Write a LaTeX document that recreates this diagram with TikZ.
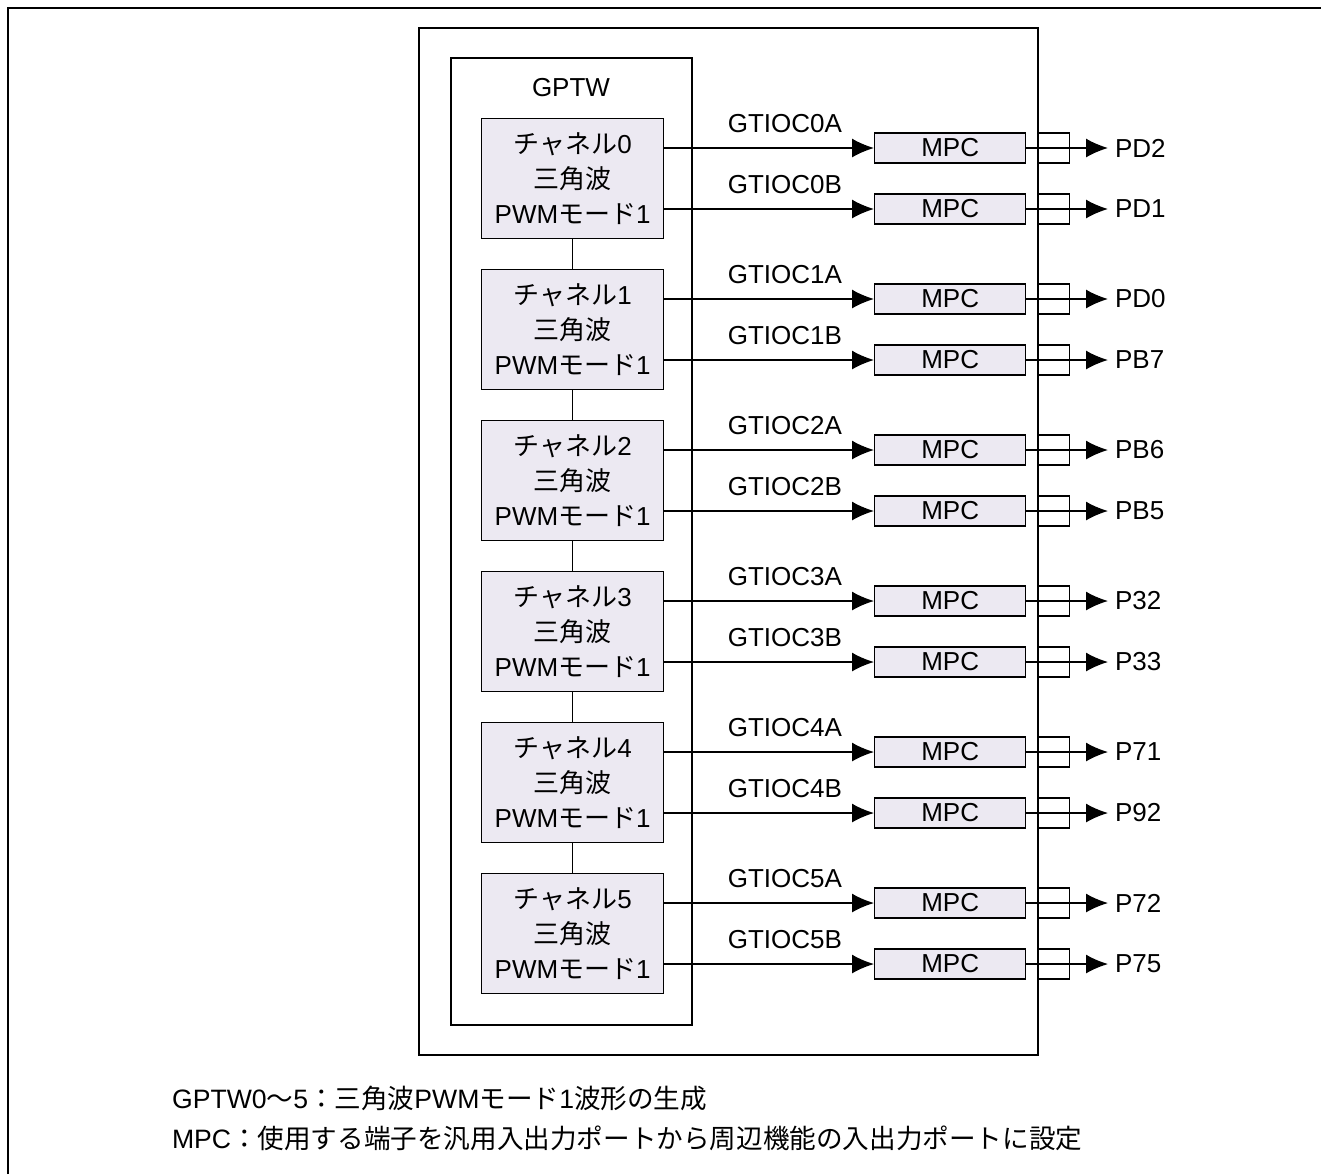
\documentclass[tikz,border=0pt]{standalone}
\usepackage{fontspec}
\setmainfont{Liberation Sans}
\newfontfamily\jp{Noto Sans CJK JP}
\usetikzlibrary{arrows.meta,positioning}

\definecolor{boxfill}{RGB}{236,233,242}

\begin{document}
\begin{tikzpicture}[
    x=0.5pt, y=-0.5pt,
    font=\fontsize{13}{17.5}\selectfont,
    chbox/.style={draw, line width=0.7pt, fill=boxfill, minimum width=91pt, minimum height=60pt, inner sep=0pt, align=center},
    mpcbox/.style={draw, line width=0.7pt, fill=boxfill, minimum width=75.5pt, minimum height=15pt, inner sep=0pt},
    pinbox/.style={draw, line width=0.6pt, minimum width=15.5pt, minimum height=15pt, inner sep=0pt},
    frame/.style={draw, line width=0.8pt},
    arrow/.style={-{Latex[length=11pt, width=9.5pt]}, line width=0.7pt},
    wire/.style={line width=0.7pt},
    siglabel/.style={above=4pt, pos=0.575}
]
\useasboundingbox (0,0) rectangle (1321,1174);

% outer frame (open at right and bottom)
\draw[line width=1.1pt] (8,1174) -- (8,8) -- (1321,8);

% chip and GPTW blocks
\draw[frame] (419,28) rectangle (1038,1055);
\draw[frame] (451,58) rectangle (692,1025);
\node (gptw) at (571,88) {GPTW};

% channels
\foreach \ch/\pa/\pb [count=\i from 0] in {0/PD2/PD1, 1/PD0/PB7, 2/PB6/PB5, 3/P32/P33, 4/P71/P92, 5/P72/P75} {
  \pgfmathsetmacro{\ytop}{118+151*\i}
  \node[chbox, anchor=north west] (ch\ch) at (481,\ytop) {{\jp チャネル}\ch\\{\jp 三角波}\\PWM{\jp モード}1};
  % output A
  \node[mpcbox, anchor=west] (mpca\ch) at (874,\ytop+30) {MPC};
  \node[pinbox, anchor=west] (pina\ch) at (1038,\ytop+30) {};
  \node[anchor=west] (porta\ch) at (1108,\ytop+30) {\pa};
  \draw[arrow] (ch\ch.east |- mpca\ch) -- node[siglabel] {GTIOC\ch A} (mpca\ch.west);
  \draw[arrow] (mpca\ch.east) -- (porta\ch.west);
  % output B
  \node[mpcbox, anchor=west] (mpcb\ch) at (874,\ytop+91) {MPC};
  \node[pinbox, anchor=west] (pinb\ch) at (1038,\ytop+91) {};
  \node[anchor=west] (portb\ch) at (1108,\ytop+91) {\pb};
  \draw[arrow] (ch\ch.east |- mpcb\ch) -- node[siglabel] {GTIOC\ch B} (mpcb\ch.west);
  \draw[arrow] (mpcb\ch.east) -- (portb\ch.west);
}

% links between channels
\foreach \a/\b in {0/1, 1/2, 2/3, 3/4, 4/5}
  \draw[wire] (ch\a.south) -- (ch\b.north);

% notes
\node[anchor=west, font=\fontsize{13.3}{17.5}\selectfont] (note1) at (165,1098) {GPTW0{\jp ～}5{\jp ：三角波}PWM{\jp モード}1{\jp 波形の生成}};
\node[anchor=west, font=\fontsize{13.3}{17.5}\selectfont] (note2) at (165,1138) {MPC{\jp ：使用する端子を汎用入出力ポートから周辺機能の入出力ポートに設定}};
\end{tikzpicture}
\end{document}
